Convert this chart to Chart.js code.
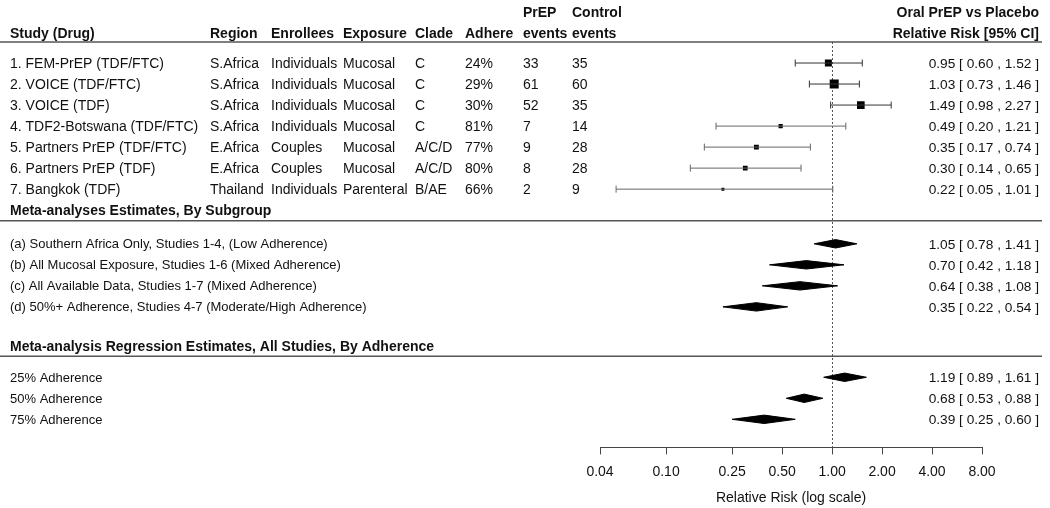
<!DOCTYPE html>
<html>
<head>
<meta charset="utf-8">
<script src="https://cdn.jsdelivr.net/npm/chart.js@4.4.1/dist/chart.umd.min.js"></script>
<style>
  html, body { margin: 0; padding: 0; background: #fff; }
  canvas { display: block; }
</style>
</head>
<body>
<canvas id="forest" width="1050" height="508"></canvas>
<script>
// ---- data ----
var studies = ['1. FEM-PrEP (TDF/FTC)', '2. VOICE (TDF/FTC)', '3. VOICE (TDF)', '4. TDF2-Botswana (TDF/FTC)',
  '5. Partners PrEP (TDF/FTC)', '6. Partners PrEP (TDF)', '7. Bangkok (TDF)'];
var regions   = ['S.Africa', 'S.Africa', 'S.Africa', 'S.Africa', 'E.Africa', 'E.Africa', 'Thailand'];
var enrollees = ['Individuals', 'Individuals', 'Individuals', 'Individuals', 'Couples', 'Couples', 'Individuals'];
var exposure  = ['Mucosal', 'Mucosal', 'Mucosal', 'Mucosal', 'Mucosal', 'Mucosal', 'Parenteral'];
var clade     = ['C', 'C', 'C', 'C', 'A/C/D', 'A/C/D', 'B/AE'];
var adhere    = ['24%', '29%', '30%', '81%', '77%', '80%', '66%'];
var prepEvents    = [33, 61, 52, 7, 9, 8, 2];
var controlEvents = [35, 60, 35, 14, 28, 28, 9];
var studyRR = [0.95, 1.03, 1.49, 0.49, 0.35, 0.30, 0.22];
var studyLo = [0.60, 0.73, 0.98, 0.20, 0.17, 0.14, 0.05];
var studyHi = [1.52, 1.46, 2.27, 1.21, 0.74, 0.65, 1.01];

var subgroups = ['(a) Southern Africa Only, Studies 1-4, (Low Adherence)',
  '(b) All Mucosal Exposure, Studies 1-6 (Mixed Adherence)',
  '(c) All Available Data, Studies 1-7 (Mixed Adherence)',
  '(d) 50%+ Adherence, Studies 4-7 (Moderate/High Adherence)'];
var subRR = [1.05, 0.70, 0.64, 0.35];
var subLo = [0.78, 0.42, 0.38, 0.22];
var subHi = [1.41, 1.18, 1.08, 0.54];

var regLabels = ['25% Adherence', '50% Adherence', '75% Adherence'];
var regRR = [1.19, 0.68, 0.39];
var regLo = [0.89, 0.53, 0.25];
var regHi = [1.61, 0.88, 0.60];

var tickValues = [0.04, 0.10, 0.25, 0.50, 1, 2, 4, 8];

// ---- layout (rows of 21px below the header rule) ----
var ROW_PX = 21;
var studyRow = function(i) { return i + 1; };
var subRow = function(i) { return 9.6 + i; };
var regRow = function(i) { return 15.95 + i; };
var HALF_DIAMOND = 0.2;
var FONT = '"Liberation Sans", Arial, sans-serif';
var TXT_DY = 1; // canvas 'middle' sits a touch high

function rrText(rr, lo, hi) {
  return rr.toFixed(2) + ' [ ' + lo.toFixed(2) + ' , ' + hi.toFixed(2) + ' ]';
}

// box size like metafor: scaled inverse CI width, 0.5..1.5
var invW = studyLo.map(function(lo, i) { return 1 / (Math.log(studyHi[i]) - Math.log(lo)); });
var wMin = Math.min.apply(null, invW), wMax = Math.max.apply(null, invW);
var boxRadius = invW.map(function(w) {
  var psize = (w - wMin) / (wMax - wMin) + 0.5;
  return 6 * psize / (2 * Math.SQRT1_2);
});

var datasets = [];

studies.forEach(function(s, i) {
  var c = i < 3 ? '#333' : '#666';
  datasets.push({
    data: [{ x: studyLo[i], y: studyRow(i) }, { x: studyHi[i], y: studyRow(i) }],
    borderColor: c, borderWidth: 1, fill: false,
    pointStyle: 'line', pointRotation: 90, pointRadius: 3.5,
    pointBorderColor: c, pointBorderWidth: 1
  });
});

datasets.push({
  data: studyRR.map(function(v, i) { return { x: v, y: studyRow(i) }; }),
  showLine: false, pointStyle: 'rect', pointRadius: boxRadius,
  pointBackgroundColor: '#000', pointBorderWidth: 0
});

function diamond(rr, lo, hi, y) {
  return {
    data: [{ x: lo, y: y }, { x: rr, y: y - HALF_DIAMOND }, { x: hi, y: y }, { x: rr, y: y + HALF_DIAMOND }, { x: lo, y: y }],
    fill: 'shape', backgroundColor: '#000', borderColor: '#000', borderWidth: 1,
    pointRadius: 0, tension: 0
  };
}
subRR.forEach(function(v, i) { datasets.push(diamond(v, subLo[i], subHi[i], subRow(i))); });
regRR.forEach(function(v, i) { datasets.push(diamond(v, regLo[i], regHi[i], regRow(i))); });

var tablePlugin = {
  id: 'table',
  beforeDatasetsDraw: function(chart) {
    var ctx = chart.ctx, x = chart.scales.x, y = chart.scales.y;
    var px = x.getPixelForValue(1);
    ctx.save();
    ctx.strokeStyle = '#555';
    ctx.lineWidth = 1;
    ctx.setLineDash([2, 2]);
    ctx.beginPath();
    ctx.moveTo(Math.round(px) + 0.5, y.getPixelForValue(0));
    ctx.lineTo(Math.round(px) + 0.5, chart.chartArea.bottom);
    ctx.stroke();
    ctx.restore();
  },
  afterDraw: function(chart) {
    var ctx = chart.ctx, y = chart.scales.y;
    var right = 1039;
    var rowY = function(r) { return y.getPixelForValue(r) + TXT_DY; };
    ctx.save();
    ctx.fillStyle = '#111';
    ctx.textBaseline = 'middle';

    // rules
    ctx.strokeStyle = '#555';
    ctx.lineWidth = 1.5;
    [0, 8.5, 14.95].forEach(function(r) {
      var py = y.getPixelForValue(r);
      ctx.beginPath(); ctx.moveTo(0, py); ctx.lineTo(1042, py); ctx.stroke();
    });

    // header
    var h1 = rowY(-1.43), h2 = rowY(-0.43);
    ctx.font = 'bold 14px ' + FONT;
    ctx.textAlign = 'left';
    ctx.fillText('Study (Drug)', 10, h2);
    ctx.fillText('Region', 210, h2);
    ctx.fillText('Enrollees', 271, h2);
    ctx.fillText('Exposure', 343, h2);
    ctx.fillText('Clade', 415, h2);
    ctx.fillText('Adhere', 465, h2);
    ctx.fillText('PrEP', 523, h1);
    ctx.fillText('events', 523, h2);
    ctx.fillText('Control', 572, h1);
    ctx.fillText('events', 572, h2);
    ctx.textAlign = 'right';
    ctx.fillText('Oral PrEP vs Placebo', right, h1);
    ctx.fillText('Relative Risk [95% CI]', right, h2);

    // section titles
    ctx.textAlign = 'left';
    ctx.fillText('Meta-analyses Estimates, By Subgroup', 10, rowY(8));
    ctx.fillText('Meta-analysis Regression Estimates, All Studies, By Adherence', 10, rowY(14.45));

    studies.forEach(function(s, i) {
      var py = rowY(studyRow(i));
      ctx.font = '14px ' + FONT;
      ctx.textAlign = 'left';
      ctx.fillText(s, 10, py);
      ctx.fillText(regions[i], 210, py);
      ctx.fillText(enrollees[i], 271, py);
      ctx.fillText(exposure[i], 343, py);
      ctx.fillText(clade[i], 415, py);
      ctx.fillText(adhere[i], 465, py);
      ctx.fillText(String(prepEvents[i]), 523, py);
      ctx.fillText(String(controlEvents[i]), 572, py);
      ctx.font = '13.7px ' + FONT;
      ctx.textAlign = 'right';
      ctx.fillText(rrText(studyRR[i], studyLo[i], studyHi[i]), right, py);
    });
    subgroups.forEach(function(s, i) {
      var py = rowY(subRow(i));
      ctx.font = '13px ' + FONT;
      ctx.textAlign = 'left';
      ctx.fillText(s, 10, py);
      ctx.font = '13.7px ' + FONT;
      ctx.textAlign = 'right';
      ctx.fillText(rrText(subRR[i], subLo[i], subHi[i]), right, py);
    });
    regLabels.forEach(function(s, i) {
      var py = rowY(regRow(i));
      ctx.font = '13px ' + FONT;
      ctx.textAlign = 'left';
      ctx.fillText(s, 10, py);
      ctx.font = '13.7px ' + FONT;
      ctx.textAlign = 'right';
      ctx.fillText(rrText(regRR[i], regLo[i], regHi[i]), right, py);
    });
    ctx.restore();
  }
};

new Chart(document.getElementById('forest').getContext('2d'), {
  type: 'line',
  data: { datasets: datasets },
  plugins: [tablePlugin],
  options: {
    responsive: false,
    animation: false,
    events: [],
    layout: { autoPadding: false, padding: { left: 600, right: 68, top: 42, bottom: 0 } },
    plugins: { legend: { display: false }, tooltip: { enabled: false } },
    scales: {
      x: {
        type: 'logarithmic', position: 'bottom', min: 0.04, max: 8,
        afterBuildTicks: function(scale) {
          scale.ticks = tickValues.map(function(v) { return { value: v }; });
        },
        ticks: {
          autoSkip: false, maxRotation: 0, padding: 9.5, color: '#111',
          font: { family: FONT, size: 14 },
          callback: function(v) { return Number(v).toFixed(2); }
        },
        grid: { display: true, drawOnChartArea: false, drawTicks: true, tickLength: 7, color: '#444' },
        border: { display: true, color: '#444', width: 1 },
        title: {
          display: true, text: 'Relative Risk (log scale)', color: '#111',
          font: { family: FONT, size: 14 }, padding: { top: 0, bottom: 1 }
        }
      },
      y: { type: 'linear', reverse: true, min: 0, max: (447 - 42) / ROW_PX, display: false }
    }
  }
});
</script>
</body>
</html>
